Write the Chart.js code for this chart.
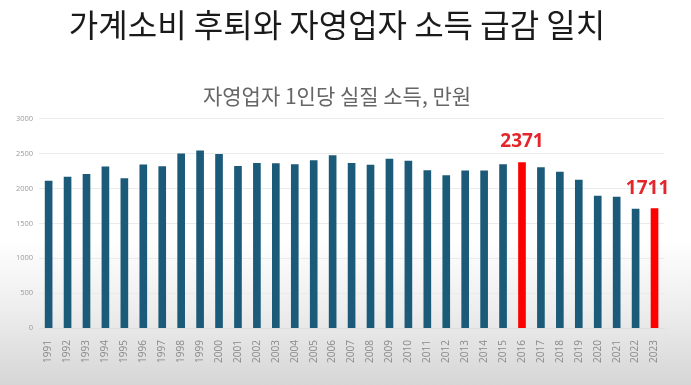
<!DOCTYPE html>
<html>
<head>
<meta charset="utf-8">
<script src="https://cdn.jsdelivr.net/npm/chart.js@4/dist/chart.umd.min.js"></script>
<style>
  html, body { margin: 0; padding: 0; }
  body {
    width: 691px; height: 385px; overflow: hidden;
    background: linear-gradient(to bottom, #ffffff 0%, #ffffff 62%, #eeeeee 80%, #d6d6d6 100%);
  }
  #wrap { width: 691px; height: 385px; }
</style>
</head>
<body>
<div id="wrap"><canvas id="myChart"></canvas></div>
<script>
// 자영업자 1인당 실질 소득 (만원)
var years = ['1991','1992','1993','1994','1995','1996','1997','1998','1999','2000',
  '2001','2002','2003','2004','2005','2006','2007','2008','2009','2010',
  '2011','2012','2013','2014','2015','2016','2017','2018','2019','2020',
  '2021','2022','2023'];
var incomes = [2107, 2164, 2203, 2309, 2140, 2338, 2313, 2496, 2540, 2487,
  2318, 2361, 2357, 2342, 2400, 2472, 2361, 2333, 2420, 2390,
  2256, 2184, 2251, 2251, 2342, 2371, 2299, 2236, 2121, 1890,
  1876, 1703, 1711];
var highlightYears = ['2016', '2023'];
var yTicks = [0, 500, 1000, 1500, 2000, 2500, 3000];

var barColors = [];
for (var i = 0; i < years.length; i++) {
  barColors.push(highlightYears.indexOf(years[i]) >= 0 ? '#ff0000' : '#1b5a78');
}

// red value labels above the highlighted bars
var valueLabels = {
  id: 'valueLabels',
  afterDatasetsDraw: function(chart) {
    var ctx = chart.ctx;
    var meta = chart.getDatasetMeta(0);
    ctx.save();
    ctx.fillStyle = '#e3262b';
    ctx.font = 'bold 19px "Open Sans", "Noto Sans", sans-serif';
    ctx.textAlign = 'center';
    ctx.textBaseline = 'bottom';
    highlightYears.forEach(function(y) {
      var idx = years.indexOf(y);
      var bar = meta.data[idx];
      var x = bar.x;
      if (idx == years.length - 1) x -= 7;
      ctx.fillText(String(incomes[idx]), x, bar.y - 11);
    });
    ctx.restore();
  }
};

var ctx = document.getElementById('myChart');
var myChart = new Chart(ctx, {
  type: 'bar',
  data: {
    labels: years,
    datasets: [{
      label: '자영업자 1인당 실질 소득',
      data: incomes,
      backgroundColor: barColors,
      barThickness: 7
    }]
  },
  options: {
    responsive: true,
    maintainAspectRatio: false,
    animation: false,
    layout: { padding: { left: 10, right: 27, top: 0, bottom: 18 } },
    plugins: {
      legend: { display: false },
      tooltip: { enabled: false },
      title: {
        display: true,
        text: '가계소비 후퇴와 자영업자 소득 급감 일치',
        color: '#1a1a1a',
        font: { family: '"Noto Sans CJK KR"', size: 32, weight: 'normal' },
        padding: { top: 6, bottom: 39 }
      },
      subtitle: {
        display: true,
        text: '자영업자 1인당 실질 소득, 만원',
        color: '#666666',
        font: { family: '"Noto Sans CJK KR"', size: 21, weight: 'normal' },
        padding: { top: 0, bottom: 10 }
      }
    },
    scales: {
      x: {
        grid: { display: false },
        border: { color: '#dddddd' },
        ticks: {
          color: '#8a8a8a',
          font: { family: '"Open Sans", sans-serif', size: 10 },
          maxRotation: 90, minRotation: 90,
          autoSkip: false,
          padding: 4
        }
      },
      y: {
        min: 0, max: 3000,
        afterBuildTicks: function(axis) {
          axis.ticks = yTicks.map(function(v) { return { value: v }; });
        },
        grid: { color: '#ebebeb', drawTicks: false },
        border: { display: false },
        ticks: {
          color: '#9a9a9a',
          font: { family: '"Open Sans", sans-serif', size: 7.5 },
          padding: 6,
          callback: function(v) { return String(v); }
        }
      }
    }
  },
  plugins: [valueLabels]
});
</script>
</body>
</html>
